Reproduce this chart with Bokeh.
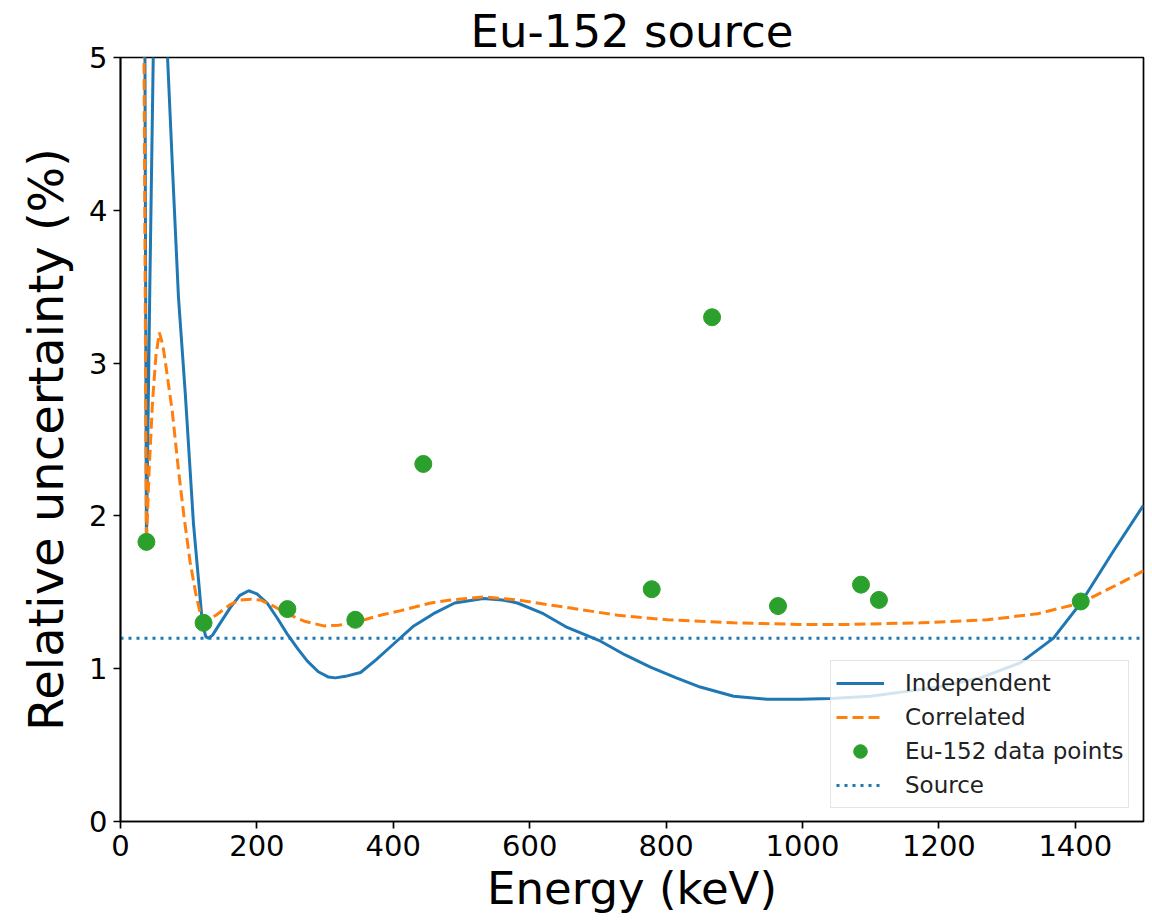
from bokeh.plotting import figure
from bokeh.models import FixedTicker, Range1d, Legend, LegendItem
from bokeh.embed import file_html
from bokeh.resources import INLINE

# ---- data ----
point_energy = [38, 121.8, 244.7, 344.3, 444.0, 778.9, 867.4, 964.1, 1085.8, 1112.1, 1408.0]
point_unc = [1.83, 1.30, 1.39, 1.32, 2.34, 1.52, 3.30, 1.41, 1.55, 1.45, 1.44]

indep_energy = [34, 35.5, 38, 43, 48, 58, 69, 77, 85, 95, 107, 115, 120, 125, 129, 135, 145,
                161, 175, 188, 200, 215, 230, 244, 260, 274, 290, 305, 315, 330, 352, 375,
                400, 430, 459, 490, 532, 560, 582, 620, 655, 704, 740, 777, 815, 850, 899,
                948, 997, 1041, 1100, 1150, 1200, 1261, 1320, 1368, 1408, 1456, 1500]
indep_unc = [9.0, 5.5, 1.83, 3.5, 5.0, 6.5, 5.0, 4.2, 3.43, 2.8, 1.95, 1.55, 1.30, 1.21, 1.20,
             1.22, 1.29, 1.40, 1.48, 1.51, 1.49, 1.43, 1.33, 1.23, 1.13, 1.05, 0.98, 0.945,
             0.94, 0.95, 0.975, 1.06, 1.16, 1.28, 1.36, 1.43, 1.46, 1.45, 1.43, 1.36, 1.27,
             1.18, 1.09, 1.01, 0.94, 0.88, 0.82, 0.80, 0.80, 0.805, 0.82, 0.85, 0.88, 0.94,
             1.04, 1.20, 1.43, 1.77, 2.07]

corr_energy = [33, 34.5, 38, 42, 47, 52, 57, 62, 66, 76, 85, 93, 102, 110, 117, 123, 140,
               161, 176, 191, 205, 224, 249, 270, 298, 320, 342, 381, 411, 455, 484, 532,
               582, 655, 729, 802, 899, 997, 1070, 1173, 1271, 1345, 1408, 1466, 1500]
corr_unc = [8.0, 5.0, 1.83, 2.3, 2.75, 3.05, 3.2, 3.12, 3.0, 2.68, 2.3, 2.0, 1.7, 1.5, 1.36,
            1.31, 1.35, 1.42, 1.45, 1.455, 1.45, 1.41, 1.35, 1.31, 1.28, 1.285, 1.30, 1.35,
            1.38, 1.43, 1.45, 1.47, 1.45, 1.40, 1.35, 1.32, 1.30, 1.29, 1.29, 1.30, 1.32,
            1.36, 1.43, 1.56, 1.64]

source_level = 1.2

x_ticks = [0, 200, 400, 600, 800, 1000, 1200, 1400]
y_ticks = [0, 1, 2, 3, 4, 5]
x_lim = (0, 1500)
y_lim = (0, 5)
title_text = "Eu-152 source"

BLUE = "#1f77b4"
ORANGE = "#ff7f0e"
GREEN = "#2ca02c"
FONT = "DejaVu Sans"
FRAME_W, FRAME_H = 1023, 764

p = figure(frame_width=FRAME_W, frame_height=FRAME_H, output_backend="svg",
           toolbar_location=None, x_range=Range1d(*x_lim), y_range=Range1d(*y_lim),
           title=title_text,
           min_border_left=120, min_border_right=9, min_border_top=57, min_border_bottom=100)

p.background_fill_color = "white"
p.border_fill_color = "white"
p.xgrid.visible = False
p.ygrid.visible = False
p.outline_line_color = "black"
p.outline_line_width = 1.7
p.outline_line_alpha = 1.0

p.title.text_font = FONT
p.title.text_font_size = "45px"
p.title.text_font_style = "normal"
p.title.text_color = "black"
p.title.align = "center"
p.title.standoff = 0
p.title.offset = 0

for ax, ticks, label, lab_size, lab_standoff in (
        (p.xaxis[0], x_ticks, "Energy (keV)", "45px", 3),
        (p.yaxis[0], y_ticks, "Relative uncertainty (%)", "48px", 12)):
    ax.ticker = FixedTicker(ticks=ticks)
    ax.axis_label = label
    ax.axis_label_text_font = FONT
    ax.axis_label_text_font_size = lab_size
    ax.axis_label_text_font_style = "normal"
    ax.axis_label_text_color = "black"
    ax.major_label_text_font = FONT
    ax.major_label_text_font_size = "29px"
    ax.major_label_text_color = "black"
    ax.axis_line_color = "black"
    ax.axis_line_width = 1.7
    ax.major_tick_line_color = "black"
    ax.major_tick_line_width = 1.7
    ax.major_tick_out = 7
    ax.major_tick_in = 0
    ax.minor_tick_line_color = None
    ax.major_label_standoff = 6
    ax.axis_label_standoff = lab_standoff

r_ind = p.line(indep_energy, indep_unc, line_color=BLUE, line_width=3)
r_cor = p.line(corr_energy, corr_unc, line_color=ORANGE, line_width=3, line_dash="11 5")
r_src = p.line(list(x_lim), [source_level, source_level], line_color=BLUE, line_width=3,
               line_dash="3 5")
r_pts = p.scatter(point_energy, point_unc, size=17, fill_color=GREEN, line_color=GREEN)

legend = Legend(items=[
    LegendItem(label="Independent", renderers=[r_ind]),
    LegendItem(label="Correlated", renderers=[r_cor]),
    LegendItem(label="Eu-152 data points", renderers=[r_pts]),
    LegendItem(label="Source", renderers=[r_src]),
])
legend.location = (710, 13)
legend.label_text_font = FONT
legend.label_text_font_size = "23px"
legend.label_text_color = "#222222"
legend.glyph_width = 48
legend.glyph_height = 34
legend.label_height = 26
legend.label_standoff = 21
legend.spacing = 0
legend.padding = 5
legend.margin = 0
legend.border_line_color = "#cccccc"
legend.border_line_width = 1.5
legend.background_fill_alpha = 0.8
p.add_layout(legend)

open("out.html", "w").write(file_html(p, INLINE))
